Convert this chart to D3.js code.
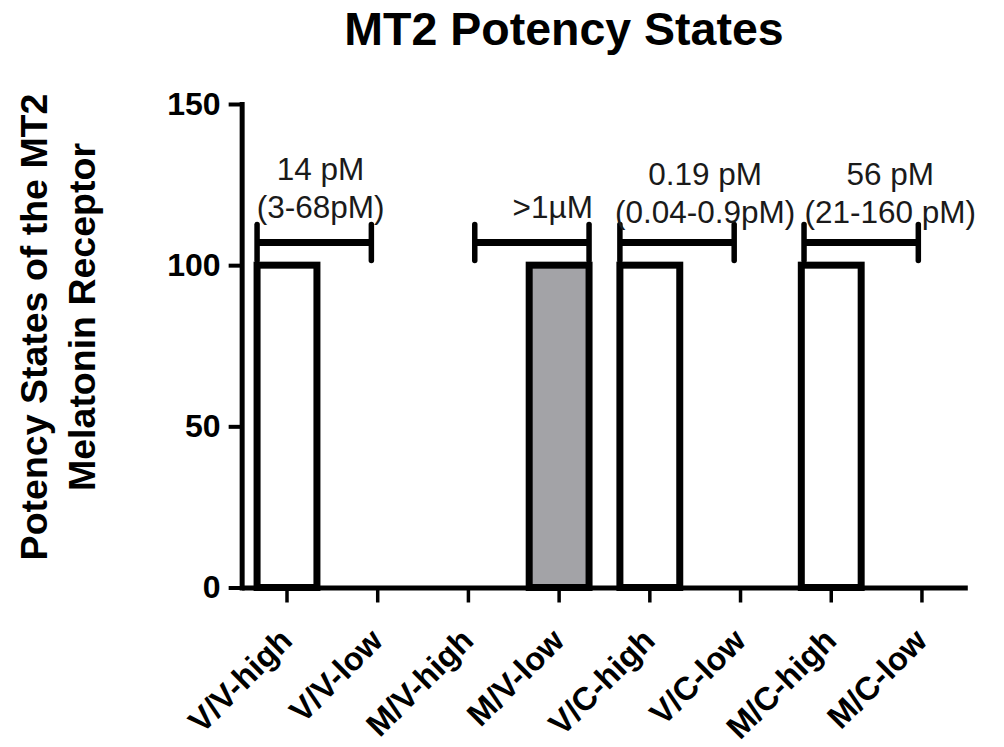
<!DOCTYPE html>
<html>
<head>
<meta charset="utf-8">
<script src="https://cdn.jsdelivr.net/npm/d3@7"></script>
<style>
  body { margin: 0; background: #fff; }
  svg { display: block; }
  text { font-family: "Liberation Sans", Arial, Helvetica, sans-serif; }
</style>
</head>
<body>
<svg id="chart" width="1004" height="747"></svg>
<script>
// Receptor states on the x axis and the share of receptors in each state
const categories = ["V/V-high", "V/V-low", "M/V-high", "M/V-low", "V/C-high", "V/C-low", "M/C-high", "M/C-low"];
const values = [100, 0, 0, 100, 100, 0, 100, 0];
const shaded = [false, false, false, true, false, false, false, false];
const yTicks = [0, 50, 100, 150];

// Potency range brackets, positioned in category units (0 = first category)
const rangeLo = [-0.33, 2.07, 3.67, 5.70];
const rangeHi = [0.93, 3.33, 4.93, 6.96];
const rangeLevel = [107, 107, 107, 107];

// Potency annotations above each bracket
const labelTop = ["14 pM", "", "0.19 pM", "56 pM"];
const labelBottom = ["(3-68pM)", ">1\u00B5M", "(0.04-0.9pM)", "(21-160 pM)"];
const labelPos = [0.37, 2.93, 4.61, 6.65];
const labelLevel = [126.5, 126.5, 125, 125];

const svg = d3.select("#chart");
const plotLeft = 241.65, plotRight = 967.3, plotTop = 104, plotBottom = 587.5;

const x = d3.scaleBand()
  .domain(categories)
  .range([plotLeft, plotRight])
  .paddingInner(0.34)
  .paddingOuter(0.17);

const y = d3.scaleLinear().domain([0, 150]).range([plotBottom, plotTop]);

// continuous position in category units -> pixel (category centres)
const cx = d3.scaleLinear()
  .domain([0, categories.length - 1])
  .range([x(categories[0]) + x.bandwidth() / 2, x(categories[categories.length - 1]) + x.bandwidth() / 2]);

// Title
svg.append("text")
  .attr("x", 564).attr("y", 45)
  .attr("text-anchor", "middle")
  .attr("font-size", 46.5).attr("font-weight", "bold")
  .text("MT2 Potency States");

// Y axis title (two lines)
const yTitle = [["Potency States of the MT2", 47, 327], ["Melatonin Receptor", 95, 317]];
yTitle.forEach(([t, bx, cy]) => {
  svg.append("text")
    .attr("transform", `translate(${bx},${cy}) rotate(-90)`)
    .attr("text-anchor", "middle")
    .attr("font-size", 37.5).attr("font-weight", "bold")
    .text(t);
});

// Bars
const bars = categories.map((c, i) => ({ c, v: values[i], s: shaded[i] })).filter(d => d.v > 0);
svg.append("g").selectAll("rect").data(bars).join("rect")
  .attr("x", d => x(d.c))
  .attr("y", d => y(d.v))
  .attr("width", x.bandwidth())
  .attr("height", d => y(0) - y(d.v))
  .attr("fill", d => d.s ? "#a3a3a7" : "#fff")
  .attr("stroke", "#000")
  .attr("stroke-width", 7);

// Potency range brackets
const ranges = rangeLo.map((lo, i) => ({ lo, hi: rangeHi[i], lv: rangeLevel[i] }));
const rg = svg.append("g").attr("stroke", "#000").attr("fill", "none");
ranges.forEach(r => {
  const yy = y(r.lv);
  rg.append("line").attr("x1", cx(r.lo)).attr("x2", cx(r.hi)).attr("y1", yy).attr("y2", yy).attr("stroke-width", 7);
  [r.lo, r.hi].forEach(p => {
    rg.append("line").attr("x1", cx(p)).attr("x2", cx(p)).attr("y1", yy - 18).attr("y2", yy + 18)
      .attr("stroke-width", 5.5).attr("stroke-linecap", "round");
  });
});

// Potency annotations
labelPos.forEach((p, i) => {
  const t = svg.append("text")
    .attr("x", cx(p)).attr("y", y(labelLevel[i]))
    .attr("text-anchor", "middle")
    .attr("font-size", 31.5).attr("fill", "#1a1a1a");
  if (labelTop[i]) t.append("tspan").attr("x", cx(p)).attr("dy", 0).text(labelTop[i]);
  t.append("tspan").attr("x", cx(p)).attr("dy", 38).text(labelBottom[i]);
});

// Y axis
const gy = svg.append("g")
  .attr("transform", `translate(${plotLeft},0)`)
  .call(d3.axisLeft(y).tickValues(yTicks).tickSize(13).tickSizeOuter(0).tickPadding(8));
gy.select(".domain").attr("stroke-width", 5).attr("stroke-linecap", "square");
gy.selectAll(".tick line").attr("stroke-width", 4);
gy.selectAll(".tick text").attr("font-size", 32).attr("font-weight", "bold")
  .attr("font-family", "'Liberation Sans', Arial, sans-serif").attr("fill", "#000");

// X axis
const gx = svg.append("g")
  .attr("transform", `translate(0,${plotBottom})`)
  .call(d3.axisBottom(x).tickSize(15).tickSizeOuter(0));
gx.select(".domain").attr("stroke-width", 5);
gx.selectAll(".tick line").attr("stroke-width", 3.5);
gx.selectAll(".tick text")
  .attr("x", 0).attr("y", 0).attr("dy", 0)
  .attr("text-anchor", "end")
  .attr("transform", "translate(7,55) rotate(-45)")
  .attr("font-size", 32.5).attr("font-weight", "bold")
  .attr("font-family", "'Liberation Sans', Arial, sans-serif").attr("fill", "#000");
</script>
</body>
</html>
